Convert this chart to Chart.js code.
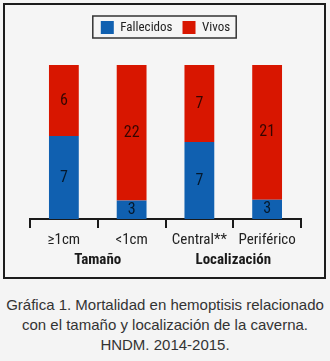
<!DOCTYPE html>
<html lang="es">
  <head>
    <meta charset="utf-8" />
    <title>Mortalidad en hemoptisis</title>
    <style>
      * {
        margin: 0;
        padding: 0;
      }
      body {
        width: 330px;
        height: 361px;
        background: #f4f4f4;
        position: relative;
        overflow: hidden;
      }
      .chartBox {
        position: absolute;
        left: 3px;
        top: 3px;
        width: 319px;
        height: 272px;
        border: 2px solid #1c1c1c;
        background: #f5f5f5;
      }
      .caption {
        position: absolute;
        left: 0;
        top: 295px;
        width: 330px;
        text-align: center;
        font-family: "Liberation Sans", Arial, sans-serif;
        font-size: 15px;
        line-height: 20px;
        color: #333;
      }
    </style>
  </head>
  <body>
    <div class="chartBox">
      <canvas id="myChart" width="319" height="272"></canvas>
    </div>
    <div class="caption">
      Gráfica 1. Mortalidad en hemoptisis relacionado<br />
      con el tamaño y localización de la caverna.<br />
      HNDM. 2014-2015.
    </div>

    <script src="https://cdn.jsdelivr.net/npm/chart.js@4.4.1/dist/chart.umd.min.js"></script>

    <script>
      const labels = ["≥1cm", "<1cm", "Central**", "Periférico"];
      const fallecidos = [7, 3, 7, 3];
      const vivos = [6, 22, 7, 21];
      const groups = ["Tamaño", "Localización"];

      const narrow = '"Roboto Condensed", "DejaVu Sans Condensed", sans-serif';

      // 100% stacked: share of each category
      const pct = (arr) => arr.map((v, i) => (v / (fallecidos[i] + vivos[i])) * 100);

      const data = {
        labels: labels,
        datasets: [
          {
            label: "Fallecidos",
            data: pct(fallecidos),
            counts: fallecidos,
            backgroundColor: "#1060b0",
            barPercentage: 0.88,
            categoryPercentage: 0.5,
          },
          {
            label: "Vivos",
            data: pct(vivos),
            counts: vivos,
            backgroundColor: "#d81600",
            barPercentage: 0.88,
            categoryPercentage: 0.5,
          },
        ],
      };

      // push the plot down below the legend
      const legendGap = {
        id: "legendGap",
        beforeInit(chart) {
          const fit = chart.legend.fit;
          chart.legend.fit = function () {
            fit.bind(chart.legend)();
            this.height += 21;
          };
        },
      };

      const legendFrame = {
        id: "legendFrame",
        afterDraw(chart) {
          const boxes = chart.legend.legendHitBoxes;
          if (!boxes || !boxes.length) return;
          const first = boxes[0];
          const last = boxes[boxes.length - 1];
          const { ctx } = chart;
          ctx.save();
          ctx.strokeStyle = "#333";
          ctx.lineWidth = 1.5;
          ctx.strokeRect(
            first.left - 8,
            first.top - 5,
            last.left + last.width - first.left + 14,
            first.height + 9
          );
          ctx.restore();
        },
      };

      const segmentLabels = {
        id: "segmentLabels",
        afterDatasetsDraw(chart) {
          const { ctx } = chart;
          ctx.save();
          ctx.font = "16px " + narrow;
          ctx.fillStyle = "rgba(0, 0, 0, 0.75)";
          ctx.textAlign = "center";
          ctx.textBaseline = "middle";
          chart.data.datasets.forEach((ds, di) => {
            chart.getDatasetMeta(di).data.forEach((bar, i) => {
              const mid = (bar.y + bar.base) / 2;
              ctx.fillText(ds.counts[i], bar.x, mid);
            });
          });
          ctx.restore();
        },
      };

      const groupLabels = {
        id: "groupLabels",
        afterDraw(chart) {
          const { ctx, scales: { x } } = chart;
          ctx.save();
          ctx.font = "bold 15px " + narrow;
          ctx.fillStyle = "#1a1a1a";
          ctx.textAlign = "center";
          ctx.textBaseline = "middle";
          groups.forEach((g, gi) => {
            const cx = (x.getPixelForValue(gi * 2) + x.getPixelForValue(gi * 2 + 1)) / 2;
            ctx.fillText(g, cx, x.top + 41);
          });
          ctx.restore();
        },
      };

      const config = {
        type: "bar",
        data: data,
        options: {
          responsive: false,
          animation: false,
          layout: {
            padding: { left: 25, right: 23, top: 6, bottom: 0 },
          },
          scales: {
            x: {
              stacked: true,
              grid: {
                display: true,
                offset: true,
                drawOnChartArea: false,
                drawTicks: true,
                tickLength: 9,
                color: "#1a1a1a",
                lineWidth: 2,
              },
              border: { display: true, color: "#1a1a1a", width: 2 },
              ticks: {
                color: "#222",
                font: { family: narrow, size: 15 },
                padding: 3,
                maxRotation: 0,
                minRotation: 0,
                autoSkip: false,
              },
              afterFit(scale) {
                scale.height = 58;
              },
            },
            y: {
              stacked: true,
              min: 0,
              max: 100,
              display: false,
            },
          },
          plugins: {
            legend: {
              position: "top",
              labels: {
                boxWidth: 13,
                boxHeight: 13,
                padding: 10,
                color: "#222",
                font: { family: narrow, size: 13 },
              },
            },
            tooltip: { enabled: false },
          },
        },
        plugins: [legendGap, legendFrame, segmentLabels, groupLabels],
      };

      const myChart = new Chart(document.getElementById("myChart"), config);
    </script>
  </body>
</html>
